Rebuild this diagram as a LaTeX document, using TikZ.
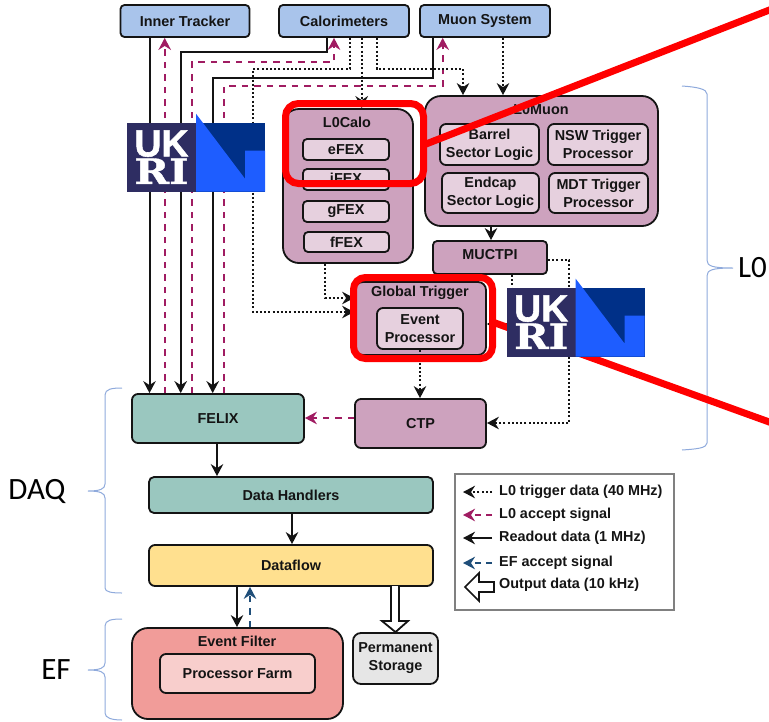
\documentclass[tikz,border=0pt]{standalone}
\usepackage{fontspec}
\setmainfont{Liberation Sans}
\newfontfamily\calib{Carlito}
\newfontfamily\logoup[FakeBold=1.5]{Liberation Sans Bold}
\newfontfamily\logolow[FakeBold=1]{DejaVu Serif Bold}
\usetikzlibrary{arrows.meta,calc}
\definecolor{detblue}{HTML}{A9C4EB}
\definecolor{trigpur}{HTML}{CDA2BE}
\definecolor{trigin}{HTML}{E6D0DE}
\definecolor{daqteal}{HTML}{9AC7BF}
\definecolor{dfyel}{HTML}{FFE08F}
\definecolor{efred}{HTML}{F19C99}
\definecolor{efin}{HTML}{F8CECC}
\definecolor{stgrey}{HTML}{E6E6E6}
\definecolor{accpur}{HTML}{A01C62}
\definecolor{efacc}{HTML}{1F4E79}
\definecolor{brace}{HTML}{8FAADC}
\definecolor{ink}{HTML}{141414}
\definecolor{navy}{HTML}{2E2D62}
\definecolor{logodark}{HTML}{003088}
\definecolor{logolight}{HTML}{1E5DFF}
\tikzset{
  x=1pt,y=-1pt,
  box/.style={draw=ink,line width=1.8pt,rounded corners=4pt,inner sep=0pt,align=center,
    font=\bfseries\fontsize{14.4}{18}\selectfont,text=ink},
  big/.style={box,rounded corners=16pt},
  tip/.style={-{Stealth[length=12pt,width=12.5pt,inset=4pt]}},
  readout/.style={draw=ink,line width=2pt,tip},
  l0acc/.style={draw=accpur,line width=2.2pt,dash pattern=on 6.5pt off 6pt,tip},
  efaccs/.style={draw=efacc,line width=2.2pt,dash pattern=on 6.5pt off 6pt,tip},
  l0data/.style={draw=ink,line width=2pt,dash pattern=on 2pt off 2.2pt,tip},
  hilite/.style={draw=red,line width=7pt},
  bracel/.style={draw=brace,line width=1pt},
  side/.style={font=\calib\fontsize{31}{31}\selectfont,text=black,inner sep=0pt},
  legtxt/.style={font=\bfseries\fontsize{14.4}{16}\selectfont,text=ink,inner sep=0pt,anchor=west},
  lab/.style={font=\bfseries\fontsize{14.4}{16}\selectfont,text=ink,inner sep=0pt},
  logotxt/.style={text=white,inner sep=0pt,align=center,font=\fontsize{10}{27.5}\selectfont},
  ukri/.pic={
    \fill[navy] (0,0) rectangle (69,69);
    \fill[logodark] (69,0) rectangle (138,69);
    \fill[logolight] (69,-9) -- (118,56) -- (118,28) -- (138,28) -- (138,69) -- (69,69) -- cycle;
    \node[logotxt] (uk) at (34.5,34.5) {\resizebox{54pt}{26pt}{\logoup UK}\\\resizebox{54pt}{25.5pt}{\logolow RI}};
  }
}
\begin{document}
\begin{tikzpicture}
\useasboundingbox (0,0) rectangle (769,721);
% detectors
\node[box,fill=detblue,minimum width=129pt,minimum height=32pt] (inner) at (185,21) {Inner Tracker};
\node[box,fill=detblue,minimum width=130pt,minimum height=32pt] (cal) at (344,21) {Calorimeters};
\node[box,fill=detblue,minimum width=130pt,minimum height=32pt] (muon) at (485,21) {Muon System};
% L0Calo
\node[big,fill=trigpur,minimum width=130pt,minimum height=154pt] (calo) at (348,186) {};
\node[lab] (calot) at (347,122.5) {L0Calo};
\node[box,fill=trigin,minimum width=86pt,minimum height=21pt] (efex) at (346,149.5) {eFEX};
\node[box,fill=trigin,minimum width=86pt,minimum height=21pt] (ifex) at (346,179.5) {jFEX};
\node[box,fill=trigin,minimum width=86pt,minimum height=21pt] (gfex) at (346,211.5) {gFEX};
\node[box,fill=trigin,minimum width=85pt,minimum height=20pt] (ffex) at (346.5,242) {fFEX};
% L0Muon
\node[big,fill=trigpur,minimum width=233pt,minimum height=130pt] (lmuon) at (541.5,161) {};
\node[lab] (lmuont) at (541,110) {L0Muon};
\node[box,fill=trigin,minimum width=99pt,minimum height=41pt,rounded corners=6pt] (barrel) at (489.5,144.5) {Barrel\\Sector Logic};
\node[box,fill=trigin,minimum width=100pt,minimum height=41pt,rounded corners=6pt] (nsw) at (598,144.5) {NSW Trigger\\Processor};
\node[box,fill=trigin,minimum width=97pt,minimum height=40pt,rounded corners=6pt] (endcap) at (490.5,193) {Endcap\\Sector Logic};
\node[box,fill=trigin,minimum width=99pt,minimum height=40pt,rounded corners=6pt] (mdt) at (598.5,193) {MDT Trigger\\Processor};
% MUCTPI etc
\node[box,fill=trigpur,minimum width=114pt,minimum height=33pt] (muctpi) at (490,257.5) {};
\node[lab] (muctpit) at (490,255) {MUCTPI};
\node[box,fill=trigpur,minimum width=131pt,minimum height=73pt,rounded corners=8pt] (glob) at (420.5,318.5) {};
\node[lab] (globt) at (420,293) {Global Trigger};
\node[box,fill=trigin,minimum width=86pt,minimum height=41pt,rounded corners=6pt] (evp) at (420,328.5) {Event\\Processor};
\node[box,fill=trigpur,minimum width=131pt,minimum height=49pt,rounded corners=6pt] (ctp) at (420.5,423.5) {CTP};
\node[box,fill=daqteal,minimum width=172pt,minimum height=49pt,rounded corners=6pt] (felix) at (218,418.5) {FELIX};
\node[box,fill=daqteal,minimum width=284pt,minimum height=36pt,rounded corners=5pt] (dh) at (291,495) {Data Handlers};
\node[box,fill=dfyel,minimum width=284pt,minimum height=41pt,rounded corners=6pt] (df) at (291,565.5) {Dataflow};
\node[big,fill=efred,minimum width=211pt,minimum height=91pt] (ef) at (237.5,673.5) {};
\node[lab] (eft) at (237,641.5) {Event Filter};
\node[box,fill=efin,minimum width=155pt,minimum height=39pt,rounded corners=6pt] (farm) at (237.5,673.5) {Processor Farm};
\node[box,fill=stgrey,minimum width=85pt,minimum height=51pt,rounded corners=8pt] (store) at (395.5,658.5) {Permanent\\Storage};
% x/y guides for connectors
\foreach \n/\v in {a/149.5,b/164.7,c/180.7,d/192,e/212.7,f/224,g/327,h/334,i/350,j/361.7,k/376.7,l/433,m/442.7,n/463,o/503,p/253,q/325,r/512,s/569,t/491,u/420,v/217,w/292,y/237,z/250}
  \coordinate (x\n) at (\v,0);
\foreach \n/\v in {a/52,b/62,c/78,d/86,e/69,f/298,g/312,h/324,i/260,j/423,k/418}
  \coordinate (y\n) at (0,\v);
% readout
\draw[readout] (inner.south -| xa) -- (felix.north -| xa);
\draw[readout] (cal.south -| xg) -- (xg |- ya) -- (xc |- ya) -- (felix.north -| xc);
\draw[readout] (muon.south -| xl) -- (xl |- yc) -- (xe |- yc) -- (felix.north -| xe);
% L0 accept
\draw[l0acc] (felix.north -| xb) -- (inner.south -| xb);
\draw[l0acc] (felix.north -| xd) -- (xd |- yb) -- (xh |- yb) -- (cal.south -| xh);
\draw[l0acc] (felix.north -| xf) -- (xf |- yd) -- (xm |- yd) -- (muon.south -| xm);
\draw[l0acc] (ctp.west |- yk) -- (felix.east |- yk);
% L0 trigger data
\draw[l0data] (cal.south -| xi) -- (xi |- ye) -- (xp |- ye) -- (xp |- yg) -- (glob.west |- yg);
\draw[l0data] (cal.south -| xj) -- (calo.north -| xj);
\draw[l0data] (cal.south -| xk) -- (xk |- ye) -- (xn |- ye) -- (lmuon.north -| xn);
\draw[l0data] (muon.south -| xo) -- (lmuon.north -| xo);
\draw[l0data] (calo.south -| xq) -- (xq |- yf) -- (glob.west |- yf);
\draw[l0data,-{Stealth[length=8pt,width=9pt,inset=3pt]}] (muctpi.south -| xr) -- (xr |- yh) -- (glob.east |- yh);
\draw[l0data] (muctpi.east |- yi) -- (xs |- yi) -- (xs |- yj) -- (ctp.east |- yj);
\draw[l0data] (evp.south -| xu) -- (ctp.north -| xu);
\draw[readout] (lmuon.south -| xt) -- (muctpi.north -| xt);
% DAQ chain
\draw[readout] (felix.south -| xv) -- (dh.north -| xv);
\draw[readout] (dh.south -| xw) -- (df.north -| xw);
\draw[readout] (df.south -| xy) -- (ef.north -| xy);
\draw[efaccs] (ef.north -| xz) -- (df.south -| xz);
\draw[ink,line width=1.8pt,fill=white,line join=miter]
  (391,586) -- (391,621) -- (382,621) -- (store.north) -- (408,621) -- (399,621) -- (399,586);
% braces
\draw[bracel] (682,86) .. controls (697,87) and (707,89) .. (707,94) -- (707,260)
  .. controls (707,266) and (712,268) .. (733,268) .. controls (712,268) and (707,270) .. (707,276)
  -- (707,443) .. controls (707,448) and (697,449) .. (682,450);
\draw[bracel] (122,388) .. controls (112,388) and (105,389) .. (105,395) -- (105,484)
  .. controls (105,489) and (100,491) .. (88,491) .. controls (100,491) and (105,493) .. (105,498)
  -- (105,588) .. controls (105,592) and (112,593) .. (122,593);
\draw[bracel] (122,619) .. controls (112,619) and (105,620) .. (105,626) -- (105,663)
  .. controls (105,668) and (100,670) .. (88,670) .. controls (100,670) and (105,672) .. (105,677)
  -- (105,713) .. controls (105,718) and (112,720) .. (122,720);
\node[side,anchor=west] (l0) at (738,268) {L0};
\node[side] (daq) at (37,491) {DAQ};
\node[side] (eflab) at (56,670) {EF};
% legend
\node[draw=black!50,line width=1.2pt,minimum width=219pt,minimum height=136pt,inner sep=0pt] (leg) at (564.5,542) {};
\foreach \n/\yy in {1/492,2/515,3/538,4/563}{
  \coordinate (la\n) at (492,\yy); \coordinate (lb\n) at (463,\yy);}
\draw[l0data] (la1) -- (lb1);
\draw[l0acc,dash pattern=on 6pt off 5pt] (la2) -- (lb2);
\draw[readout] (la3) -- (lb3);
\draw[efaccs,dash pattern=on 6pt off 5pt] (la4) -- (lb4);
\draw[ink,line width=1.6pt,fill=white,line join=miter]
  (494,582) -- (479,582) -- (479,573) -- (465,587) -- (479,601) -- (479,592) -- (494,592) -- cycle;
\node[legtxt] (t1) at (499,492) {L0 trigger data (40 MHz)};
\node[legtxt] (t2) at (499,515) {L0 accept signal};
\node[legtxt] (t3) at (499,538) {Readout data (1 MHz)};
\node[legtxt] (t4) at (499,563) {EF accept signal};
\node[legtxt] (t5) at (499,585) {Output data (10 kHz)};
% red highlights
\draw[hilite,rounded corners=13pt] (285.5,103.5) rectangle (423.5,183.5);
\draw[hilite,rounded corners=12pt] (353.5,277.5) rectangle (492.5,358.5);
\coordinate (ra) at (423.5,145); \coordinate (rb) at (772,9);
\coordinate (rc) at (492.5,322); \coordinate (rd) at (772,423);
\draw[hilite] (ra) -- (rb);
\draw[hilite] (rc) -- (rd);
% logos
\pic (logoa) at (127,122.7) {ukri};
\pic (logob) at (506.7,287.7) {ukri};
\end{tikzpicture}
\end{document}
